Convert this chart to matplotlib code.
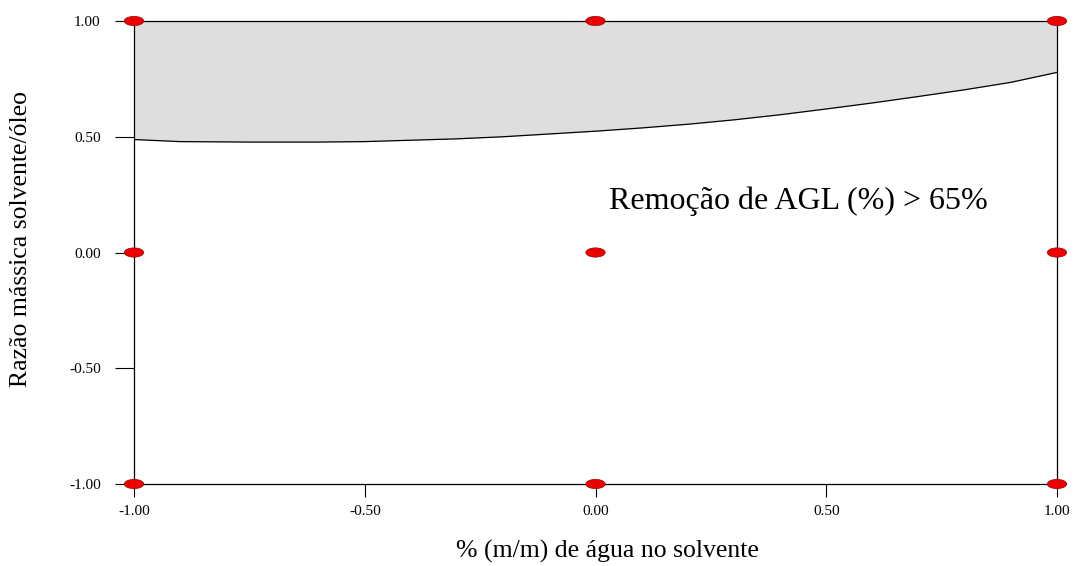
import matplotlib.pyplot as plt
from matplotlib.patches import Ellipse

plt.rcParams['font.family'] = ['Liberation Serif', 'DejaVu Serif']

# design points (coded levels)
pts_x = [-1, -1, -1, 0, 0, 0, 1, 1, 1]
pts_y = [-1, 0, 1, -1, 0, 1, -1, 0, 1]

# boundary of the region where removal > 65%
curve_x = [-1.0, -0.9, -0.75, -0.6, -0.5, -0.4, -0.3, -0.2, -0.1, 0.0,
           0.1, 0.2, 0.3, 0.4, 0.5, 0.6, 0.7, 0.8, 0.9, 1.0]
curve_y = [0.488, 0.479, 0.477, 0.477, 0.479, 0.485, 0.491, 0.500, 0.512, 0.524,
           0.538, 0.554, 0.573, 0.595, 0.620, 0.646, 0.674, 0.703, 0.735, 0.778]

ticks = [-1.0, -0.5, 0.0, 0.5, 1.0]
tick_labels = ['%.2f' % t for t in ticks]

fig = plt.figure(figsize=(10.74, 5.66), dpi=100)
ax = fig.add_axes([134 / 1074, 1 - 484 / 566, 923 / 1074, 463 / 566])

ax.fill_between(curve_x, curve_y, 1.0, color='#dedede', lw=0)
ax.plot(curve_x, curve_y, color='black', lw=0.9)

# red elliptical markers, drawn in data units
for x, y in zip(pts_x, pts_y):
    ax.add_patch(Ellipse((x, y), 0.042, 0.040, facecolor='#ee0000',
                         edgecolor='#990000', lw=0.5, clip_on=False, zorder=5))

ax.text(0.03, 0.22, 'Remoção de AGL (%) > 65%', fontsize=23, ha='left', va='center')

ax.set_xlim(-1, 1)
ax.set_ylim(-1, 1)
ax.set_xticks(ticks)
ax.set_xticklabels(tick_labels)
ax.set_yticks(ticks)
ax.set_yticklabels(tick_labels)
ax.tick_params(axis='y', length=14, width=0.8, labelsize=11, pad=10)
ax.tick_params(axis='x', length=9, width=0.8, labelsize=11, pad=6)
for s in ax.spines.values():
    s.set_linewidth(0.9)

ax.set_xlabel('% (m/m) de água no solvente', fontsize=18.5, labelpad=16)
ax.xaxis.label.set_x(0.5125)
ax.set_ylabel('Razão mássica solvente/óleo', fontsize=18.5)
ax.yaxis.set_label_coords(-0.110, 0.53)

fig.savefig('out.png', dpi=100)
